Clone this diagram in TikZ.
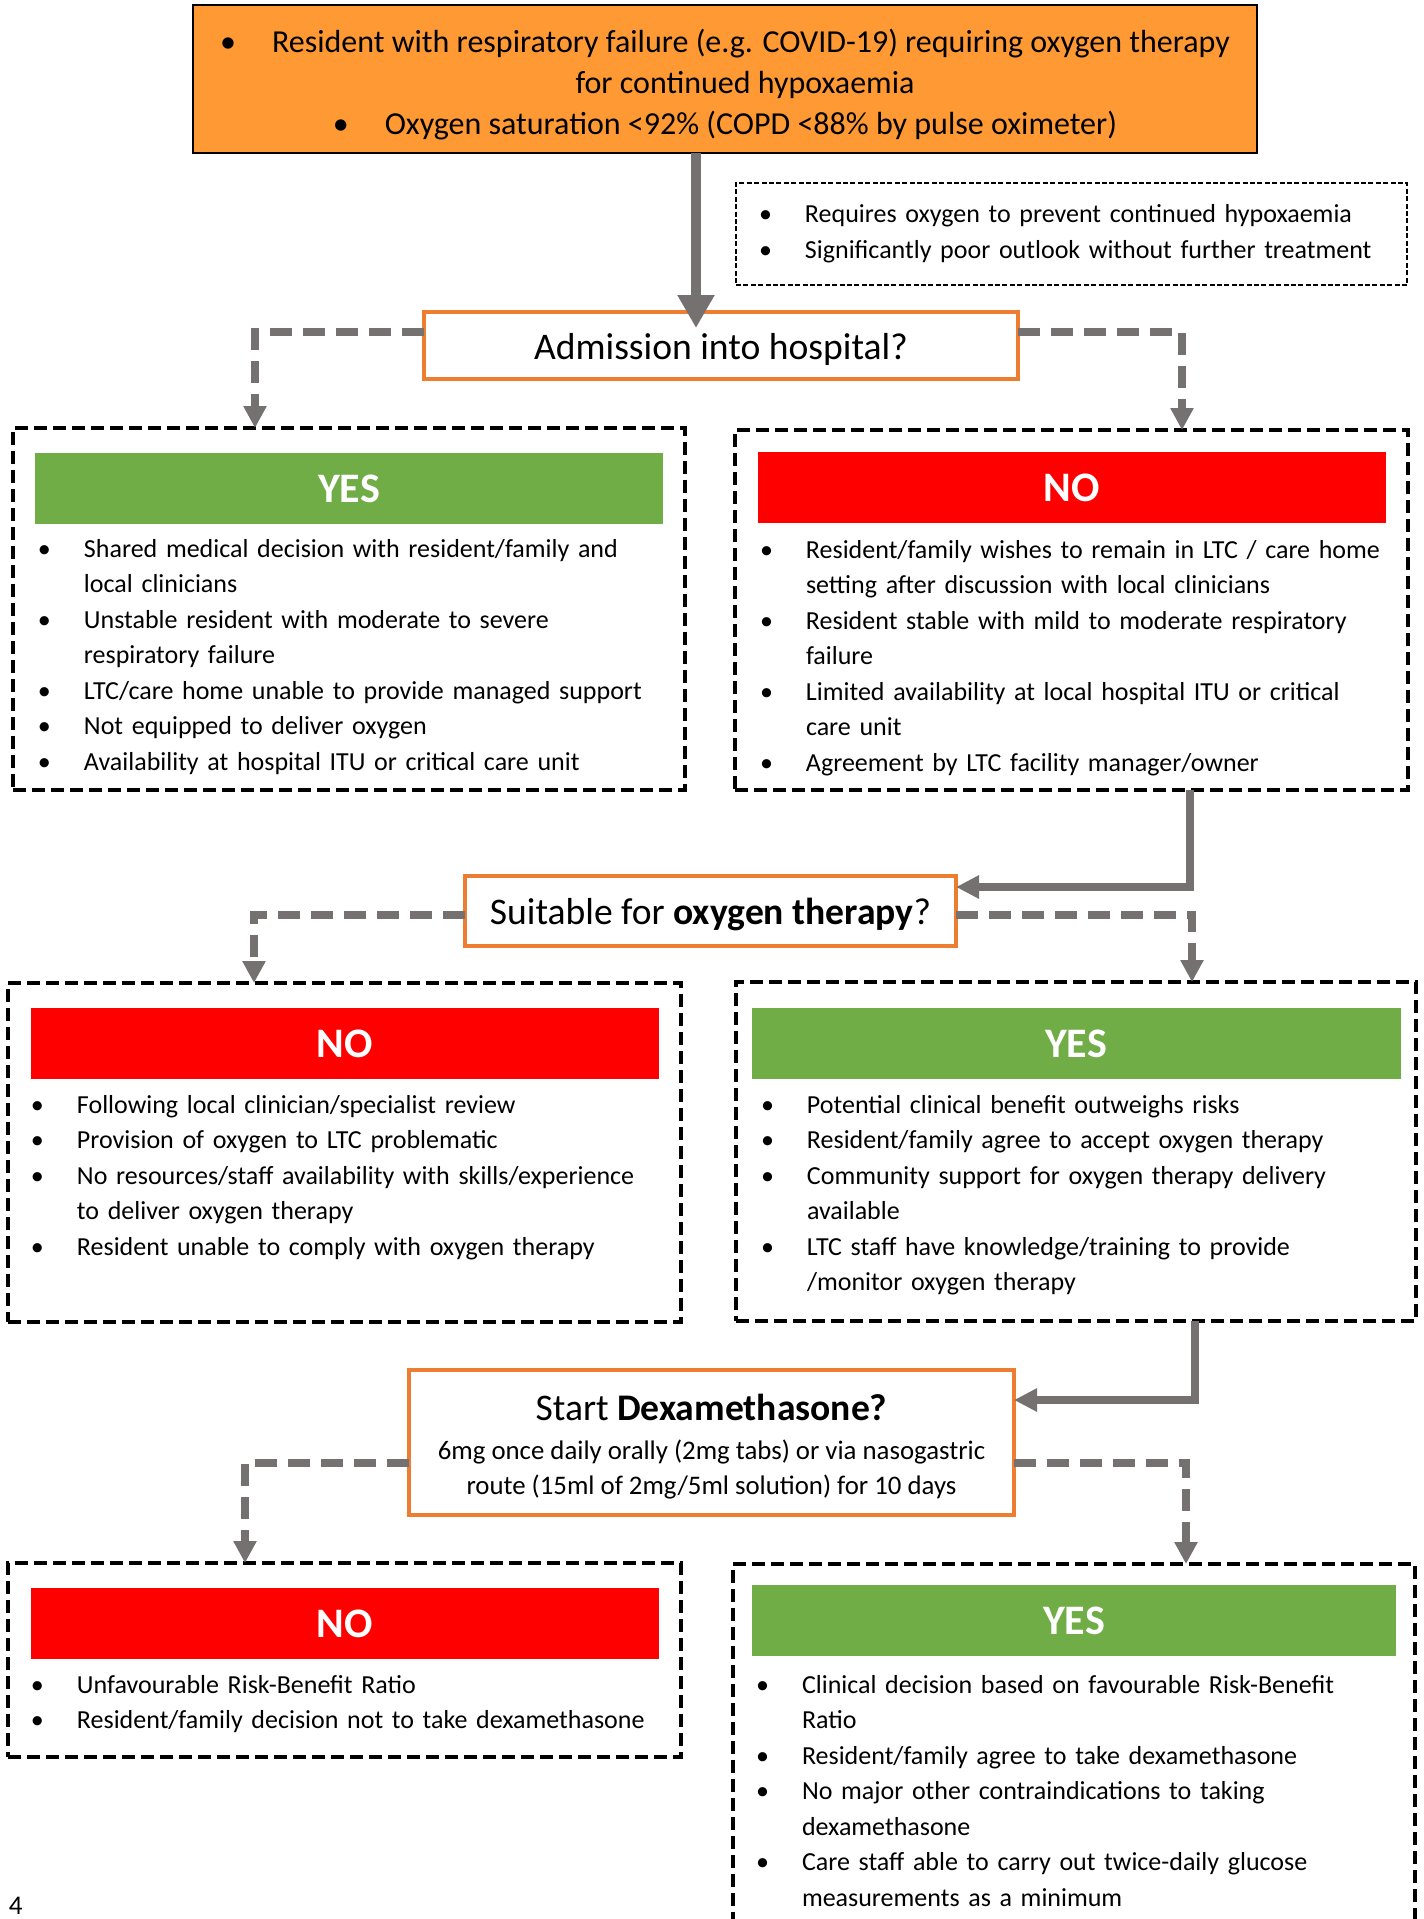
\documentclass[tikz,border=0pt]{standalone}
\usepackage{fontspec}
\setmainfont{Carlito}
\usetikzlibrary{arrows.meta,positioning}
\definecolor{arrowgray}{RGB}{118,113,113}
\definecolor{qorange}{RGB}{237,125,49}
\definecolor{topfill}{RGB}{255,153,51}
\definecolor{yesgreen}{RGB}{112,173,71}
\definecolor{nored}{RGB}{255,0,0}
\newcommand{\bulfirst}{\hangindent=23pt\hangafter=1\makebox[23pt][l]{\textbullet}}
\newcommand{\bul}{\par\noindent\bulfirst}

\begin{document}
\begin{tikzpicture}[x=0.5pt,y=-0.5pt,outer sep=0pt,inner sep=0pt,
                    flow/.style={draw=arrowgray,line width=4.25pt,-{Triangle[length=11.5pt,width=11pt]}},
                    mainflow/.style={draw=arrowgray,line width=5pt,-{Triangle[length=16.5pt,width=17.5pt]}},
                    dashflow/.style={draw=arrowgray,line width=3.8pt,dash pattern=on 11pt off 5.5pt,-{Triangle[length=11pt,width=11pt]}},
                    question/.style={draw=qorange,line width=2pt,fill=white,font=\fontsize{18.8}{22}\selectfont},
                    qline/.style={question,text height=14pt,text depth=0.5pt},
                    outcome/.style={draw,line width=2.2pt,dash pattern=on 6.5pt off 3pt,minimum width=336.5pt},
                    head/.style={minimum width=314pt,minimum height=35.5pt,text=white,font=\bfseries\fontsize{21}{25}\selectfont},
                    yeshead/.style={head,fill=yesgreen},
                    nohead/.style={head,fill=nored},
                    bullets/.style={anchor=base west,text width=330pt,align=left,font=\fontsize{13}{17.75}\selectfont}]
    \useasboundingbox (0,0) rectangle (1424,1919);
    \clip (0,0) rectangle (1424,1919);

                \node[draw,line width=1.2pt,fill=topfill,minimum width=532pt,minimum height=74pt,align=center,
                      font=\fontsize{16}{20.5}\selectfont] (patient) at (725,79)
                      {\rule{0pt}{17.5pt}\textbullet\hspace{18pt}Resident with respiratory failure (e.g. COVID-19) requiring oxygen therapy\\
                       \hspace*{20pt}for continued hypoxaemia\\
                       \textbullet\hspace{18pt}Oxygen saturation <92\% (COPD <88\% by pulse oximeter)};
                \node[draw,line width=0.75pt,dash pattern=on 2.5pt off 1.2pt,minimum width=335.5pt,minimum height=51pt,
                      text width=312.5pt,align=left,font=\fontsize{13}{18}\selectfont] (note) at (1071.5,234)
                      {\bulfirst Requires oxygen to prevent continued hypoxaemia\bul Significantly poor outlook without further treatment\par};

                \node[qline,minimum width=297pt,minimum height=33.5pt] (admit) at (721,345.5) {Admission into hospital?};
                \node[outcome,minimum width=336pt,minimum height=181pt] (admyes) at (349,609) {};
                \node[outcome,minimum height=180pt] (admno) at (1071.5,610) {};
                \node[yeshead] (admyesh) [below=12.5pt of admyes.north] {YES};
                \node[nohead] (admnoh) [below=11pt of admno.north] {NO};
                \node[bullets] (admyesl) at (38,557)
                      {\bulfirst Shared medical decision with resident/family and\newline local clinicians
                       \bul Unstable resident with moderate to severe\newline respiratory failure
                       \bul LTC/care home unable to provide managed support
                       \bul Not equipped to deliver oxygen
                       \bul Availability at hospital ITU or critical care unit\par};
                \node[bullets] (admnol) at (760,558)
                      {\bulfirst Resident/family wishes to remain in LTC / care home\newline setting after discussion with local clinicians
                       \bul Resident stable with mild to moderate respiratory\newline failure
                       \bul Limited availability at local hospital ITU or critical\newline care unit
                       \bul Agreement by LTC facility manager/owner\par};

                \node[qline,minimum width=245.5pt,minimum height=35pt] (oxy) at (710.5,911) {Suitable for \textbf{oxygen therapy}?};
                \node[outcome,minimum height=169.5pt] (oxyno) at (344.5,1152.5) {};
                \node[outcome,minimum width=340pt,minimum height=169.5pt] (oxyyes) at (1076,1151.5) {};
                \node[nohead] (oxynoh) [below=12.5pt of oxyno.north] {NO};
                \node[yeshead,minimum width=324.5pt] (oxyyesh) [below=13pt of oxyyes.north] {YES};
                \node[bullets] (oxynol) at (31,1113)
                      {\bulfirst Following local clinician/specialist review
                       \bul Provision of oxygen to LTC problematic
                       \bul No resources/staff availability with skills/experience\newline to deliver oxygen therapy
                       \bul Resident unable to comply with oxygen therapy\par};
                \node[bullets] (oxyyesl) at (761,1113)
                      {\bulfirst Potential clinical benefit outweighs risks
                       \bul Resident/family agree to accept oxygen therapy
                       \bul Community support for oxygen therapy delivery\newline available
                       \bul LTC staff have knowledge/training to provide\newline /monitor oxygen therapy\par};

                \node[question,minimum width=302.5pt,minimum height=72.5pt,align=center,
                      font=\fontsize{13.4}{17.5}\selectfont] (dexa) at (711.5,1442.5)
                      {{\fontsize{18.8}{21}\selectfont\rule{0pt}{17pt}Start \textbf{Dexamethasone?}}\\[2pt]
                       6mg once daily orally (2mg tabs) or via nasogastric\\
                       route (15ml of 2mg/5ml solution) for 10 days};
                \node[outcome,minimum height=97pt] (dexano) at (344.5,1660) {};
                \node[outcome,minimum width=341pt,minimum height=208pt] (dexayes) at (1074,1772) {};
                \node[nohead] (dexanoh) [below=12.5pt of dexano.north] {NO};
                \node[yeshead,minimum width=322pt] (dexayesh) [below=10.5pt of dexayes.north] {YES};
                \node[bullets] (dexanol) at (31,1693)
                      {\bulfirst Unfavourable Risk-Benefit Ratio
                       \bul Resident/family decision not to take dexamethasone\par};
                \node[bullets] (dexayesl) at (756,1693)
                      {\bulfirst Clinical decision based on favourable Risk-Benefit\newline Ratio
                       \bul Resident/family agree to take dexamethasone
                       \bul No major other contraindications to taking\newline dexamethasone
                       \bul Care staff able to carry out twice-daily glucose\newline measurements as a minimum\par};

                \node[anchor=base west,font=\fontsize{13.5}{16}\selectfont] (pagenum) at (9,1914) {4};

    \coordinate (m1) at (696,328);
    \coordinate (b1) at (255,332);
    \coordinate (b2) at (1182,332);
    \coordinate (b3) at (1190,887);
    \coordinate (b4) at (254,915);
    \coordinate (b5) at (1192,915);
    \coordinate (b6) at (1195,1400);
    \coordinate (b7) at (245,1463);
    \coordinate (b8) at (1186,1463);

    \draw[mainflow] (patient.south -| m1) -- (m1);
    \draw[dashflow] (admit.west |- b1) -| (admyes.north -| b1);
    \draw[dashflow] (admit.east |- b2) -| (admno.north -| b2);
    \draw[flow] (admno.south -| b3) |- (oxy.east |- b3);
    \draw[dashflow] (oxy.west |- b4) -| (oxyno.north -| b4);
    \draw[dashflow] (oxy.east |- b5) -| (oxyyes.north -| b5);
    \draw[flow] (oxyyes.south -| b6) |- (dexa.east |- b6);
    \draw[dashflow] (dexa.west |- b7) -| (dexano.north -| b7);
    \draw[dashflow] (dexa.east |- b8) -| (dexayes.north -| b8);
\end{tikzpicture}
\end{document}
